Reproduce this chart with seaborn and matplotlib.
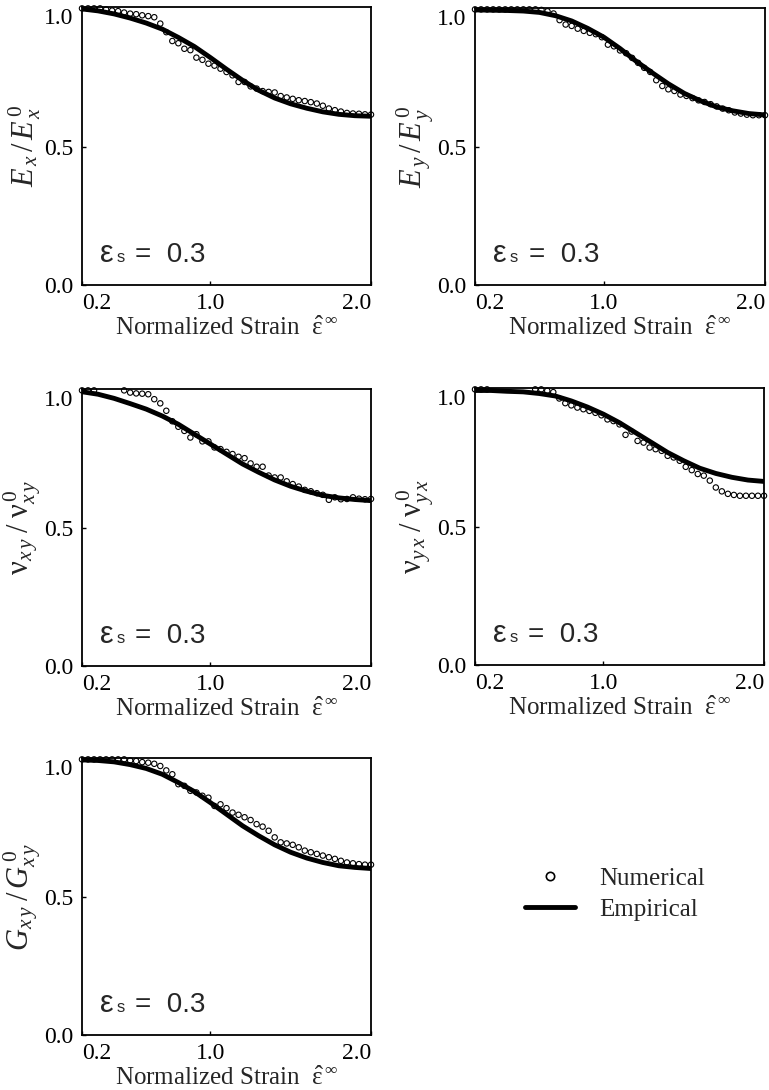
import matplotlib
matplotlib.use("Agg")
import pandas as pd
import matplotlib.pyplot as plt
import seaborn as sns
from matplotlib.lines import Line2D

# ──────────────────────────────────────────────
# Data
# ──────────────────────────────────────────────

# strain grid of the numerical (circle) results
strain_num = [
    0.2000, 0.2375, 0.2750, 0.3125, 0.3500, 0.3875, 0.4250, 0.4625, 0.5000, 0.5375,
    0.5750, 0.6125, 0.6500, 0.6875, 0.7250, 0.7625, 0.8000, 0.8375, 0.8750, 0.9125,
    0.9500, 0.9875, 1.0250, 1.0625, 1.1000, 1.1375, 1.1750, 1.2125, 1.2500, 1.2875,
    1.3250, 1.3625, 1.4000, 1.4375, 1.4750, 1.5125, 1.5500, 1.5875, 1.6250, 1.6625,
    1.7000, 1.7375, 1.7750, 1.8125, 1.8500, 1.8875, 1.9250, 1.9625, 2.0000,
]

# strain grid of the empirical (solid line) curve
strain_fit = [0.2, 0.3, 0.4, 0.5, 0.6, 0.7, 0.8, 0.9, 1.0, 1.1,
              1.2, 1.3, 1.4, 1.5, 1.6, 1.7, 1.8, 1.9, 2.0]

nan = float("nan")

ex_num = [
    1.000, 1.000, 1.000, 1.000, 0.996, 0.992, 0.990, 0.985, 0.981, 0.979,
    0.975, 0.972, 0.968, 0.945, 0.914, 0.882, 0.874, 0.854, 0.849, 0.822,
    0.814, 0.800, 0.793, 0.782, 0.770, 0.758, 0.734, 0.734, 0.718, 0.710,
    0.701, 0.698, 0.696, 0.683, 0.678, 0.673, 0.668, 0.665, 0.661, 0.656,
    0.648, 0.638, 0.632, 0.627, 0.622, 0.620, 0.619, 0.617, 0.616,
]
ex_fit = [0.998, 0.991, 0.980, 0.965, 0.947, 0.925, 0.895, 0.862, 0.822, 0.780,
          0.740, 0.704, 0.676, 0.655, 0.639, 0.626, 0.617, 0.612, 0.610]

ey_num = [
    1.000, 1.000, 1.000, 1.000, 1.000, 1.000, 1.000, 1.000, 1.000, 1.000,
    1.000, 0.998, 0.993, 0.985, 0.961, 0.945, 0.940, 0.930, 0.922, 0.915,
    0.910, 0.899, 0.872, 0.866, 0.851, 0.841, 0.824, 0.806, 0.788, 0.773,
    0.743, 0.722, 0.710, 0.704, 0.691, 0.686, 0.678, 0.670, 0.664, 0.656,
    0.648, 0.640, 0.634, 0.626, 0.622, 0.618, 0.616, 0.616, 0.616,
]
ey_fit = [0.998, 0.997, 0.996, 0.994, 0.989, 0.977, 0.958, 0.931, 0.899, 0.858,
          0.812, 0.770, 0.730, 0.695, 0.668, 0.646, 0.632, 0.622, 0.617]

nuxy_num = [
    1.000, 1.000, 1.000, nan, nan, nan, nan, 1.000, 0.992, 0.989,
    0.988, 0.986, 0.968, 0.953, 0.926, 0.888, 0.868, 0.853, 0.829, 0.841,
    0.815, 0.815, 0.793, 0.787, 0.777, 0.769, 0.759, 0.754, 0.735, 0.723,
    0.723, 0.691, 0.684, 0.684, 0.670, 0.660, 0.651, 0.639, 0.634, 0.627,
    0.621, 0.603, 0.612, 0.605, 0.606, 0.612, 0.607, 0.605, 0.606,
]
nuxy_fit = [0.995, 0.986, 0.971, 0.952, 0.932, 0.907, 0.877, 0.841, 0.805, 0.769,
            0.733, 0.703, 0.675, 0.652, 0.634, 0.619, 0.610, 0.604, 0.600]

nuyx_num = [
    1.000, 1.000, 1.000, nan, nan, nan, nan, nan, nan, nan,
    1.000, 1.000, 0.995, 0.990, 0.967, 0.950, 0.942, 0.934, 0.928, 0.922,
    0.915, 0.906, 0.891, 0.885, 0.873, 0.835, 0.847, 0.813, 0.807, 0.789,
    0.783, 0.777, 0.759, 0.753, 0.741, 0.719, 0.707, 0.693, 0.687, 0.669,
    0.644, 0.630, 0.621, 0.617, 0.614, 0.614, 0.614, 0.614, 0.614,
]
nuyx_fit = [0.996, 0.996, 0.993, 0.991, 0.985, 0.976, 0.958, 0.936, 0.910, 0.879,
            0.843, 0.807, 0.771, 0.741, 0.714, 0.695, 0.681, 0.671, 0.666]

gxy_num = [
    1.000, 1.000, 1.000, 1.000, 1.000, 1.000, 1.000, 1.000, 0.996, 0.994,
    0.990, 0.988, 0.984, 0.976, 0.960, 0.946, 0.910, 0.904, 0.886, 0.880,
    0.868, 0.861, 0.831, 0.837, 0.823, 0.807, 0.799, 0.790, 0.780, 0.765,
    0.756, 0.741, 0.717, 0.699, 0.695, 0.690, 0.681, 0.669, 0.663, 0.657,
    0.651, 0.645, 0.639, 0.632, 0.626, 0.623, 0.620, 0.618, 0.618,
]
gxy_fit = [0.998, 0.996, 0.991, 0.981, 0.967, 0.946, 0.916, 0.883, 0.843, 0.801,
           0.759, 0.723, 0.690, 0.663, 0.642, 0.626, 0.614, 0.608, 0.604]

ylabels = [
    r"$E_{\,x}\,/\,E_{\,x}^{\,0}$",
    r"$E_{\,y}\,/\,E_{\,y}^{\,0}$",
    r"$\mathrm{\nu}_{x\,y}\;/\;\mathrm{\nu}_{x\,y}^{\,0}$",
    r"$\mathrm{\nu}_{y\,x}\;/\;\mathrm{\nu}_{y\,x}^{\,0}$",
    r"$G_{x\,y}\;/\,G_{x\,y}^{\,0}$",
]
panel_num = [ex_num, ey_num, nuxy_num, nuyx_num, gxy_num]
panel_fit = [ex_fit, ey_fit, nuxy_fit, nuyx_fit, gxy_fit]

x_ticks = [0.2, 1.0, 2.0]
x_ticklabels = ["0.2", "1.0", "2.0"]
y_ticks = [0.0, 0.5, 1.0]
y_ticklabels = ["0.0", "0.5", "1.0"]

# axes rectangles in figure fractions (left, bottom, width, height)
W, H = 769, 1090
boxes = [
    (82 / W, 1 - 285 / H, 289 / W, 278 / H),
    (475 / W, 1 - 285 / H, 290 / W, 277 / H),
    (82 / W, 1 - 666 / H, 289 / W, 277 / H),
    (475 / W, 1 - 665 / H, 289 / W, 277 / H),
    (82 / W, 1 - 1035 / H, 289 / W, 277 / H),
]

# ──────────────────────────────────────────────
# Plot
# ──────────────────────────────────────────────

sns.set_theme(style="ticks")
plt.rcParams["font.family"] = ["Liberation Serif", "DejaVu Serif"]
plt.rcParams["mathtext.fontset"] = "custom"
plt.rcParams["mathtext.rm"] = "Liberation Serif"
plt.rcParams["mathtext.it"] = "Liberation Serif:italic"
plt.rcParams["mathtext.bf"] = "Liberation Serif:bold"
plt.rcParams["mathtext.sf"] = "Liberation Sans"

fig = plt.figure(figsize=(W / 100, H / 100), dpi=100)
sans = ["Liberation Sans", "DejaVu Sans"]

for box, ylab, num, fit in zip(boxes, ylabels, panel_num, panel_fit):
    ax = fig.add_axes(box)
    df_num = pd.DataFrame({"strain": strain_num, "value": num})
    df_fit = pd.DataFrame({"strain": strain_fit, "value": fit})

    sns.lineplot(data=df_fit, x="strain", y="value", color="black",
                 linewidth=3.5, ax=ax, zorder=2)
    sns.scatterplot(data=df_num, x="strain", y="value", marker="o", s=15,
                    color="black", facecolors="none", edgecolor="black",
                    linewidth=0.8, ax=ax, zorder=3, clip_on=False)

    ax.set_xlim(0.2, 2.0)
    ax.set_ylim(0.0, 1.005)
    ax.set_xticks(x_ticks)
    ax.set_xticklabels(x_ticklabels)
    ax.set_yticks(y_ticks)
    ax.set_yticklabels(y_ticklabels)
    ax.tick_params(direction="in", length=3, width=1, labelsize=17,
                   colors="black", pad=6)
    xl = ax.get_xticklabels()
    xl[0].set_ha("left")
    xl[-1].set_ha("right")
    yl = ax.get_yticklabels()
    yl[-1].set_va("top")

    for sp in ax.spines.values():
        sp.set_color("black")
        sp.set_linewidth(1.3)

    ax.set_xlabel(r"Normalized Strain  $\hat{\mathrm{\varepsilon}}^{\,\infty}$",
                  fontsize=18, labelpad=2)
    ax.set_ylabel(ylab, fontsize=22, labelpad=1)

    # strain level annotation: eps_s = 0.3
    ax.text(0.062, 0.084, "ε", transform=ax.transAxes, va="baseline",
            ha="left", fontsize=22, family=sans)
    ax.text(0.118, 0.084, "s", transform=ax.transAxes, va="baseline",
            ha="left", fontsize=12, family=sans)
    ax.text(0.185, 0.084, "=  0.3", transform=ax.transAxes, va="baseline",
            ha="left", fontsize=20, family=sans)

handles = [
    Line2D([], [], marker="o", linestyle="none", markerfacecolor="none",
           markeredgecolor="black", markersize=6, markeredgewidth=1.2),
    Line2D([], [], color="black", linewidth=3.5),
]
fig.legend(handles, ["Numerical", "Empirical"], loc="center left",
           bbox_to_anchor=(502 / W, 1 - 894 / H), frameon=False, fontsize=18,
           handlelength=2.0, handletextpad=1.0, labelspacing=0.35)

fig.savefig("out.png", dpi=100)
